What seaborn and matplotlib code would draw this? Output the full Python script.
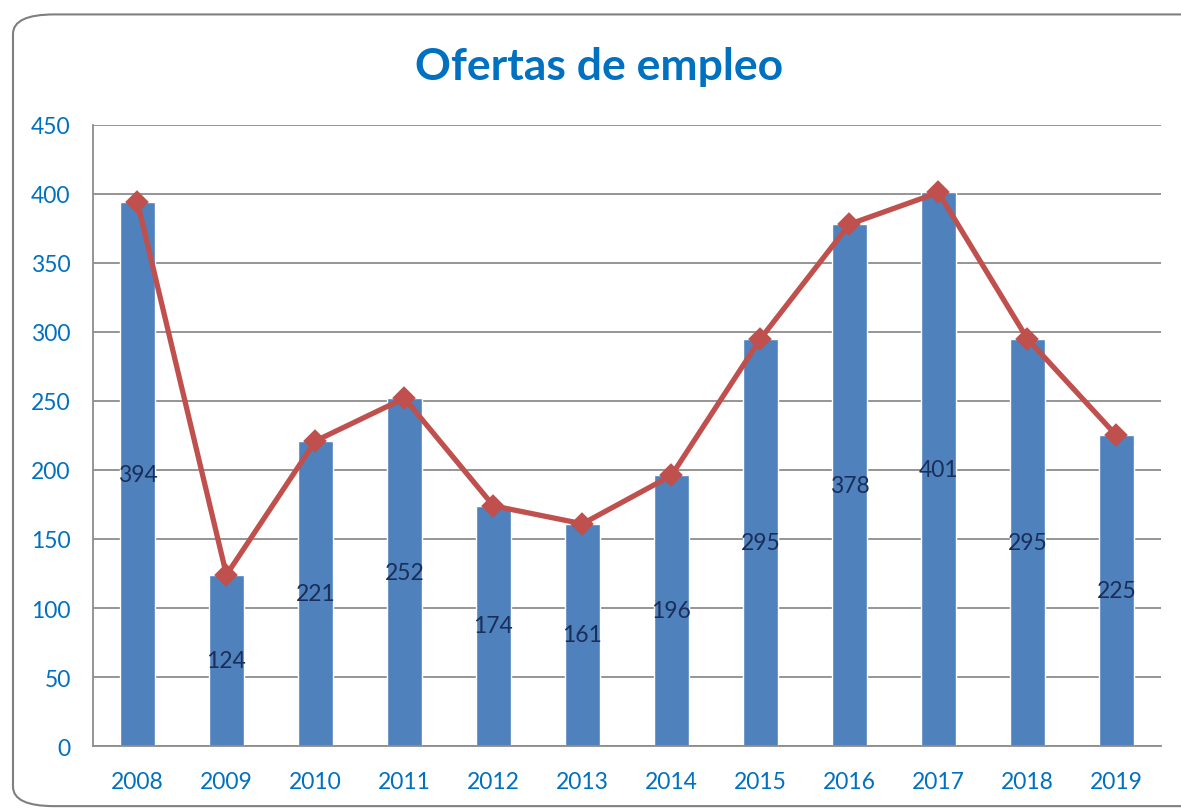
import matplotlib
matplotlib.use("Agg")
import matplotlib.pyplot as plt
from matplotlib.patches import FancyBboxPatch
import pandas as pd
import seaborn as sns

years = ['2008', '2009', '2010', '2011', '2012', '2013', '2014', '2015', '2016', '2017', '2018', '2019']
ofertas = [394, 124, 221, 252, 174, 161, 196, 295, 378, 401, 295, 225]

df = pd.DataFrame({'year': years, 'ofertas': ofertas})

sns.set_style("white")
plt.rcParams['font.family'] = ['Lato', 'DejaVu Sans']

fig = plt.figure(figsize=(11.81, 8.12), dpi=100)

# rounded frame around the chart
frame = FancyBboxPatch((0.011, 0.006), 1.05, 0.975, boxstyle="round,pad=0,rounding_size=0.035",
                       transform=fig.transFigure, facecolor='white', edgecolor='#7f7f7f',
                       linewidth=1.5, zorder=-10, mutation_aspect=812 / 1181)
fig.patches.append(frame)

ax = fig.add_axes([0.0787, 0.080, 0.9043, 0.765])
ax.set_facecolor('none')

sns.barplot(data=df, x='year', y='ofertas', color='#4F81BD', saturation=1, width=0.4, ax=ax, zorder=2)
sns.pointplot(data=df, x='year', y='ofertas', color='#C0504D', markers='D', markersize=9,
              linewidth=3.8, ax=ax, zorder=3)

for i, v in enumerate(ofertas):
    ax.text(i, v / 2, str(v), ha='center', va='center', fontsize=16.5, color='#1a2e5a', zorder=4)

ax.set_ylim(0, 450)
ax.set_xlim(-0.5, len(years) - 0.5)
ax.set_yticks(range(0, 451, 50))
ax.yaxis.grid(True, color='#8c8c8c', linewidth=1.3, zorder=0)
ax.set_axisbelow(True)

ax.set_xticks([i - 0.5 for i in range(len(years) + 1)], minor=True)
ax.tick_params(axis='x', which='major', length=0, pad=18, labelsize=16.5, labelcolor='#0070C0')
ax.tick_params(axis='x', which='minor', length=8, width=1.3, color='#8c8c8c', direction='out')
ax.tick_params(axis='y', length=8, width=1.3, color='#8c8c8c', direction='out', pad=8,
               labelsize=16.5, labelcolor='#0070C0')

for s in ['top', 'right']:
    ax.spines[s].set_visible(False)
for s in ['left', 'bottom']:
    ax.spines[s].set_color('#8c8c8c')
    ax.spines[s].set_linewidth(1.3)

ax.set_xlabel('')
ax.set_ylabel('')

fig.text(0.507, 0.918, 'Ofertas de empleo', ha='center', va='center', fontsize=32,
         fontweight='bold', color='#0070C0')

fig.savefig('out.png', dpi=100)
plt.close(fig)
